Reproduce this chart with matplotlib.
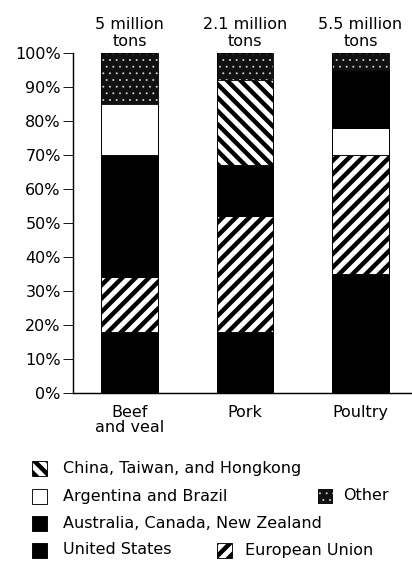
import numpy as np
import matplotlib
import matplotlib.pyplot as plt
from matplotlib.patches import Rectangle

# ----------------- DATA -----------------
categories = ["Beef\nand veal", "Pork", "Poultry"]
totals = ["5 million\ntons", "2.1 million\ntons", "5.5 million\ntons"]

us = [18, 18, 35]
eu = [16, 34, 35]
aus = [36, 15, 17]
arg = [15, 0, 8]
china = [0, 25, 0]
other = [15, 8, 5]

# bottom-to-top stacking order for each bar
order_beef = ["us", "eu", "aus", "arg", "china", "other"]
order_pork = ["us", "eu", "aus", "arg", "china", "other"]
order_poultry = ["us", "eu", "arg", "aus", "china", "other"]

yticks = [0, 10, 20, 30, 40, 50, 60, 70, 80, 90, 100]
ytick_labels = [f"{v}%" for v in yticks]

values = {"us": us, "eu": eu, "aus": aus, "arg": arg, "china": china, "other": other}
orders = [order_beef, order_pork, order_poultry]

# ----------------- STYLES -----------------
plt.rcParams['font.family'] = ['DejaVu Sans']
plt.rcParams['hatch.linewidth'] = 4.0

styles = {
    "us": dict(facecolor="black", edgecolor="black"),
    "eu": dict(facecolor="white", edgecolor="black", hatch="//"),
    "aus": dict(facecolor="black", edgecolor="black"),
    "arg": dict(facecolor="white", edgecolor="black"),
    "china": dict(facecolor="white", edgecolor="black", hatch="\\\\"),
    "other": dict(facecolor="#111111", edgecolor="#dddddd", hatch=".."),
}

FS = 14.4
W, H = 412, 567
DPI = 80

fig = plt.figure(figsize=(W / DPI, H / DPI), dpi=DPI)
ax = fig.add_axes([73 / W, 174 / H, 339 / W, 340 / H])

x = np.arange(len(categories))
bw = 0.49


def draw_seg(xpos, bottom, height, key):
    st = styles[key]
    if key == "other":
        with matplotlib.rc_context({'hatch.linewidth': 0.5}):
            ax.bar(xpos, height, bw, bottom=bottom, linewidth=0, **st)
    else:
        ax.bar(xpos, height, bw, bottom=bottom, linewidth=0.8, **st)


for i, order in enumerate(orders):
    bottom = 0
    for key in order:
        h = values[key][i]
        if h > 0:
            draw_seg(x[i], bottom, h, key)
        bottom += h
    # outline around the whole bar
    ax.bar(x[i], bottom, bw, fill=False, edgecolor="black", linewidth=0.8)
    ax.annotate(totals[i], (x[i], 100), xytext=(0, 4), textcoords="offset points",
                ha="center", va="bottom", fontsize=FS, linespacing=1.15)

ax.set_xlim(-0.489, 2.446)
ax.set_ylim(0, 100)
ax.set_yticks(yticks)
ax.set_yticklabels(ytick_labels, fontsize=FS)
ax.set_xticks(x)
ax.set_xticklabels(categories, fontsize=FS, linespacing=0.95, va="top")
ax.tick_params(axis="y", length=9, width=0.8, pad=2)
ax.tick_params(axis="x", length=0, pad=11)
for s in ["top", "right"]:
    ax.spines[s].set_visible(False)
ax.spines["left"].set_linewidth(1.3)
ax.spines["bottom"].set_linewidth(1.3)

# ----------------- LEGEND (manual layout) -----------------
legend_items = [
    ("china", "China, Taiwan, and Hongkong", 32, 63, 468),
    ("arg", "Argentina and Brazil", 32, 63, 496),
    ("other", "Other", 318, 343, 496),
    ("aus", "Australia, Canada, New Zealand", 32, 63, 523),
    ("us", "United States", 32, 63, 550),
    ("eu", "European Union", 217, 245, 550),
]
sw = 15
for key, label, sx, tx, yc in legend_items:
    st = dict(styles[key])
    if key == "other":
        with matplotlib.rc_context({'hatch.linewidth': 0.5}):
            r = Rectangle((sx / W, 1 - (yc + sw / 2) / H), sw / W, sw / H,
                          transform=fig.transFigure, linewidth=0, **st)
            fig.patches.append(r)
    else:
        r = Rectangle((sx / W, 1 - (yc + sw / 2) / H), sw / W, sw / H,
                      transform=fig.transFigure, linewidth=0.8, **st)
        fig.patches.append(r)
    fig.text(tx / W, 1 - yc / H, label, fontsize=FS, va="center", ha="left")

fig.savefig("out.png", dpi=DPI)
